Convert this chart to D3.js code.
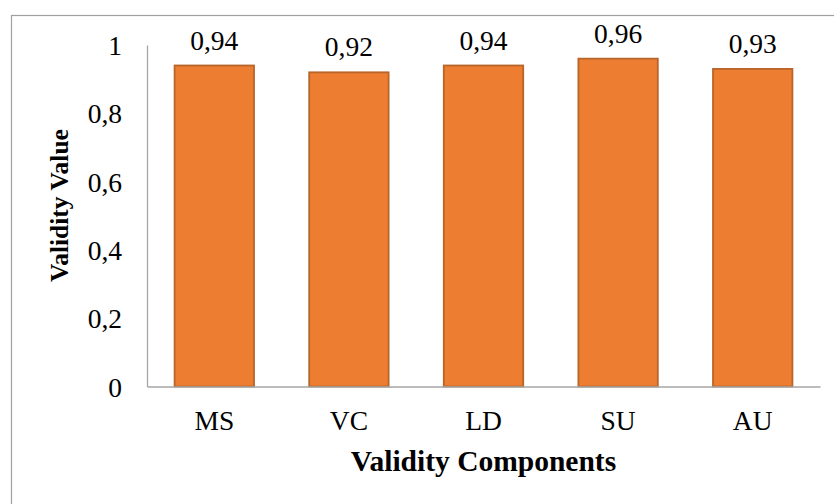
<!DOCTYPE html>
<html>
<head>
<meta charset="utf-8">
<script src="https://cdn.jsdelivr.net/npm/d3@7"></script>
<style>
  body { margin: 0; background: #fff; }
  svg text { font-family: "Liberation Serif", "Times New Roman", serif; fill: #000; }
</style>
</head>
<body>
<svg id="chart"></svg>
<script>
// data
var categories = ["MS", "VC", "LD", "SU", "AU"];
var values = [0.94, 0.92, 0.94, 0.96, 0.93];
var yTicks = [0, 0.2, 0.4, 0.6, 0.8, 1];

var size = { width: 834, height: 504 };
var margin = { top: 45, right: 14, bottom: 117.5, left: 147 };

var svg = d3.select("#chart")
    .attr("width", size.width)
    .attr("height", size.height);

// outer frame (only top and left visible)
svg.append("rect")
    .attr("x", 11.5).attr("y", 15.5)
    .attr("width", 840).attr("height", 520)
    .attr("fill", "none")
    .attr("stroke", "#a0a0a0")
    .attr("stroke-width", 1.2);

var w = size.width - margin.left - margin.right;
var h = size.height - margin.top - margin.bottom;

var g = svg.append("g")
    .attr("transform", "translate(" + margin.left + "," + margin.top + ")");

var x = d3.scaleBand().domain(categories).range([0, w]).paddingInner(0.41).paddingOuter(0.205);
var y = d3.scaleLinear().domain([0, 1]).range([h, 0]);

var fmt = function(d){ return String(d).replace(".", ","); };

// bars
g.selectAll("rect.bar")
    .data(values)
    .enter().append("rect")
    .attr("class", "bar")
    .attr("x", function(d, i){ return x(categories[i]); })
    .attr("y", function(d){ return y(d); })
    .attr("width", x.bandwidth())
    .attr("height", function(d){ return h - y(d); })
    .attr("fill", "#ed7d31")
    .attr("stroke", "#b8652b")
    .attr("stroke-width", 1.8);

// value labels
g.selectAll("text.val")
    .data(values)
    .enter().append("text")
    .attr("class", "val")
    .attr("x", function(d, i){ return x(categories[i]) + x.bandwidth() / 2; })
    .attr("y", function(d){ return y(d) - 16; })
    .attr("text-anchor", "middle")
    .style("font-size", "27.5px")
    .text(fmt);

// y axis
var yAxis = d3.axisLeft(y).tickValues(yTicks).tickSize(0).tickPadding(25).tickFormat(fmt);
var gy = g.append("g").call(yAxis);
gy.select(".domain").attr("stroke", "#a6a6a6").attr("stroke-width", 1.3);
gy.selectAll("text").style("font-size", "27.5px").attr("dy", "0.35em");

// x axis
var xAxis = d3.axisBottom(x).tickSize(0).tickPadding(24);
var gx = g.append("g").attr("transform", "translate(0," + h + ")").call(xAxis);
gx.select(".domain").attr("stroke", "#a6a6a6").attr("stroke-width", 1.3);
gx.selectAll("text").style("font-size", "27.5px");

// axis titles
svg.append("text")
    .attr("x", margin.left + w / 2)
    .attr("y", 471)
    .attr("text-anchor", "middle")
    .style("font-size", "29.5px")
    .style("font-weight", "bold")
    .text("Validity Components");

svg.append("text")
    .attr("transform", "translate(68," + 205.5 + ") rotate(-90)")
    .attr("text-anchor", "middle")
    .style("font-size", "25.5px")
    .style("font-weight", "bold")
    .text("Validity Value");
</script>
</body>
</html>
